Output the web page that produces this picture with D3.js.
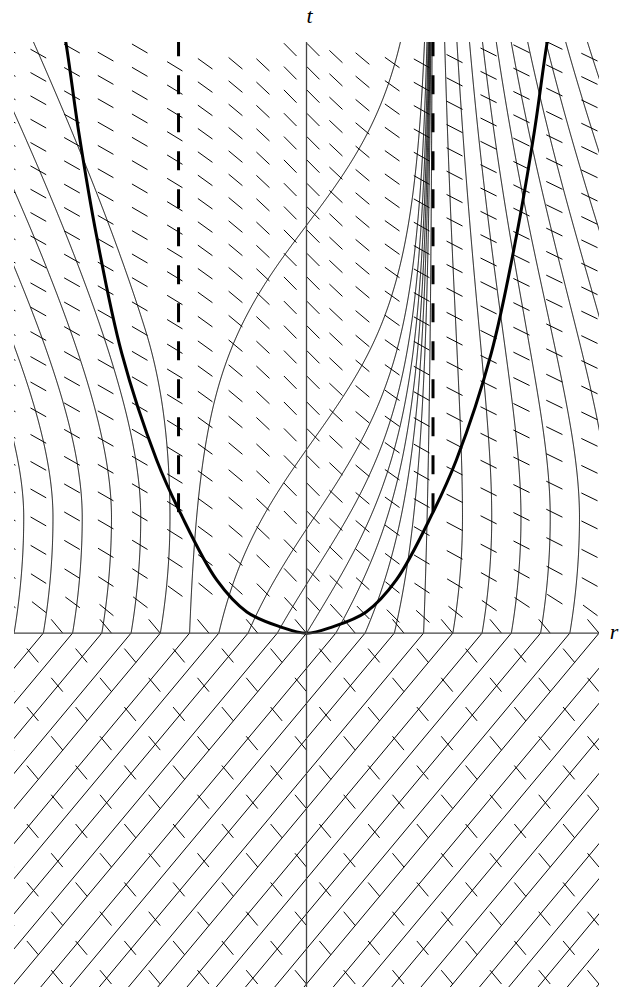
<!DOCTYPE html>
<html><head><meta charset="utf-8">
<script src="https://cdn.jsdelivr.net/npm/d3@7"></script>
<style>body{margin:0;background:#fff}</style>
</head><body>
<svg id="chart" width="630" height="989"></svg>
<script>
// ---------------- data ----------------
const rDomain = [-2, 2];
const tDomain = [-2.017, 3.37];
// r-axis crossings (t = 0) of the thin outgoing curves
const curveStarts = [-2.6,-2.4,-2.2,-2.0,-1.8,-1.6,-1.4,-1.2,-1.0,-0.8,-0.6,-0.4,-0.2,0,
  0.2,0.4,0.6,0.8,1.0,1.2,1.4,1.6,1.8,2.0,2.2,2.4,2.6,2.8,3.0,3.2,3.4,3.6,3.8,4.0,4.2];
// inner zone |r| < innerEdge: slope dr/dt of the curves
const innerEdge = 0.87, innerPeak = 0.9, innerPow = 1.46, innerEarly = 0.8, innerRamp = 1.5;
// outer zone: early slope falls from outerStart to 0 at tTurn, then tends to the late slope below
const outerStart = 0.2, tTurn = 0.66, tauOut = 0.6;
const lateR = [-3,-2.0,-1.5,-1.1,-1.0,-0.95,-0.87,0.87,1.0,1.2,1.4,1.6,1.8,2.0,2.5,3];
const lateA = [-0.6,-0.55,-0.5,-0.45,-0.3,-0.2,0,0,-0.06,-0.14,-0.22,-0.29,-0.35,-0.4,-0.47,-0.5];
// slope dr/dt of the tick direction, late values by r
const bNodesR = [-3,-2,-1.2,-0.87,-0.6,-0.3,0,0.3,0.6,0.87,1.2,2,3];
const bNodesV = [-2.2,-2.15,-2.1,-2.0,-1.6,-1.3,-1.15,-1.3,-1.6,-2.2,-2.4,-2.5,-2.5];
const tauB = 0.18;
// lower half tick lattice (null grid, spacing 1/3)
const gridU = [-13,-12,-11,-10,-9,-8,-7,-6,-5,-4,-3,-2,-1,0,1,2,3,4,5,6,7];
const gridV = [-13,-12,-11,-10,-9,-8,-7,-6,-5,-4,-3,-2,-1,0,1,2,3,4,5,6,7];
const gridStep = 1/3;
// upper half tick columns (r of the tick foot) and their vertical phase (px)
const colR     = [-1.99,-1.78,-1.55,-1.32,-1.087,-0.848,-0.643,-0.438,-0.253,-0.068,0.089,0.246,0.43,0.636,0.841,1.067,1.3,1.525,1.75,1.99];
const colPhase = [-3, 2, -3, 5, -3, 15, 13, 13, 15, 0, 0, 6.7, 8.3, 11.7, 11.7, 6.7, 0, -3.3, -6.7, 5];
// upper half tick rows (t of the tick foot in the phase-0 column)
const rowT = [3.29,3.157,3.024,2.891,2.758,2.625,2.492,2.359,2.226,2.093,1.958,1.82,1.68,
  1.538,1.393,1.245,1.094,0.94,0.783,0.623,0.46,0.295,0.128];
// thick curve (right branch; the left is its mirror)
const thickR = [0,0.178,0.408,0.613,0.862,1.024,1.263,1.434,1.559,1.646,1.70];
const thickT = [0,0.036,0.121,0.302,0.684,0.986,1.595,2.258,2.866,3.37,3.60];
// dashed lines
const dashedR = [-0.875, 0.865];
const dashedFromT = 0.69;

// ---------------- drawing ----------------
const svg = d3.select("#chart");
const x = d3.scaleLinear().domain(rDomain).range([14, 599]);
const y = d3.scaleLinear().domain(tDomain).range([987, 42]);
const late = d3.scaleLinear().domain(lateR).range(lateA).clamp(true);
const binf = d3.scaleLinear().domain(bNodesR).range(bNodesV).clamp(true);
function A(r,t){
  if(t<=0) return 1;
  if(Math.abs(r)<innerEdge){
    const ramp = innerEarly+(1-innerEarly)*Math.min(1,t/innerRamp);
    return ramp*innerPeak*Math.pow(1-(r/innerEdge)**2, innerPow);
  }
  if(t<tTurn) return outerStart*(1-t/tTurn);
  return late(r)*(1-Math.exp(-(t-tTurn)/tauOut));
}
function B(r,t){ if(t<=0) return -1; const b=binf(r); return -1+(b+1)*(1-Math.exp(-t/tauB)); }
const dt = 0.004, tTop = tDomain[1] + 0.05, nSteps = Math.ceil(tTop/dt);
function integrate(r0, F){
  const rs=[r0]; let r=r0, t=0;
  for(let i=0;i<nSteps;i++){
    const k1=F(r,t),k2=F(r+dt/2*k1,t+dt/2),k3=F(r+dt/2*k2,t+dt/2),k4=F(r+dt*k3,t+dt);
    r+=dt/6*(k1+2*k2+2*k3+k4); t+=dt; rs.push(r);
  }
  return rs;
}

svg.append("defs").append("clipPath").attr("id","plotClip")
  .append("rect").attr("x",14).attr("y",42).attr("width",585).attr("height",945);
const g = svg.append("g").attr("clip-path","url(#plotClip)");
const line = d3.line().x(d=>x(d[0])).y(d=>y(d[1]));

// outgoing curves
curveStarts.forEach(r0=>{
  const rs = integrate(r0, A);
  const pts = [[r0+tDomain[0], tDomain[0]], [r0, 0]];
  rs.forEach((r,i)=>{ if(i>0) pts.push([r, i*dt]); });
  g.append("path").attr("d", line(pts)).attr("fill","none")
    .attr("stroke","#000").attr("stroke-width",1);
});

// ticks
const ticks = [];
gridU.forEach(iu=>{
  gridV.forEach(jv=>{
    const U = iu*gridStep, V = jv*gridStep;
    if (U+V > 1e-9) return;
    ticks.push([(V-U)/2, (U+V)/2]);
  });
});
colR.forEach((r,ci)=>{
  rowT.forEach(tr=>{
    const t = tr - colPhase[ci]/175.5;
    if(t>0.06) ticks.push([r,t]);
  });
});
const tickLen = 18;
ticks.forEach(([r,t])=>{
  if (r<-2.1||r>2.1||t<tDomain[0]-0.1) return;
  const b = t<=0 ? -1 : B(r,t);
  const px = b*(x(1)-x(0)), py = -(y(0)-y(1));
  const n = Math.hypot(px,py);
  const x0=x(r), y0=y(t);
  g.append("line").attr("x1",x0).attr("y1",y0)
    .attr("x2",x0+px/n*tickLen).attr("y2",y0+py/n*tickLen)
    .attr("stroke","#000").attr("stroke-width",1);
});

// axes
svg.append("line").attr("x1",14).attr("x2",599).attr("y1",y(0)).attr("y2",y(0))
  .attr("stroke","#444").attr("stroke-width",1.3);
svg.append("line").attr("x1",x(0)).attr("x2",x(0)).attr("y1",42).attr("y2",987)
  .attr("stroke","#444").attr("stroke-width",1.3);

// thick curve
const thickPts = thickR.map((r,i)=>[-r,thickT[i]]).reverse()
  .concat(thickR.slice(1).map((r,i)=>[r,thickT[i+1]]));
g.append("path").attr("d", d3.line().x(d=>x(d[0])).y(d=>y(d[1])).curve(d3.curveCatmullRom)(thickPts))
  .attr("fill","none").attr("stroke","#000").attr("stroke-width",3);

// dashed lines
dashedR.forEach(r=>{
  g.append("line").attr("x1",x(r)).attr("x2",x(r)).attr("y1",y(dashedFromT)).attr("y2",42)
    .attr("stroke","#000").attr("stroke-width",3).attr("stroke-dasharray","19,19");
});

// labels
svg.append("text").attr("x",x(0)+3).attr("y",23).attr("text-anchor","middle")
  .attr("font-family","'Liberation Serif','DejaVu Serif',serif").attr("font-style","italic")
  .attr("font-size",22).text("t");
svg.append("text").attr("x",614).attr("y",y(0)+6).attr("text-anchor","middle")
  .attr("font-family","'Liberation Serif','DejaVu Serif',serif").attr("font-style","italic")
  .attr("font-size",22).text("r");
</script>
</body></html>
